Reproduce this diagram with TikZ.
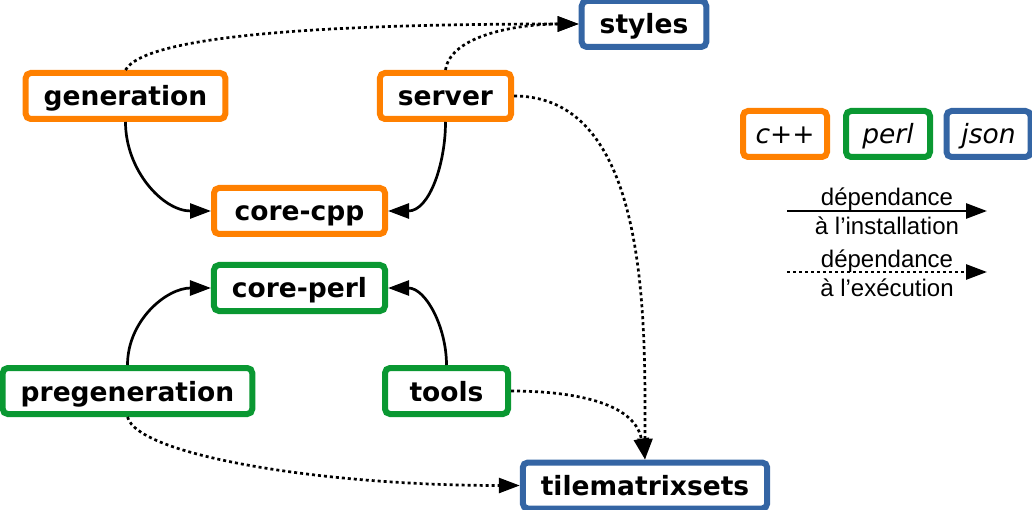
\documentclass[tikz,border=0pt]{standalone}
\usepackage{fontspec}
\setmainfont{DejaVu Sans}
\newfontfamily\legfont{Liberation Sans}
\usetikzlibrary{arrows.meta}
\definecolor{cppcol}{RGB}{255,128,0}
\definecolor{perlcol}{RGB}{10,152,50}
\definecolor{jsoncol}{RGB}{52,101,164}
\tikzset{
    box/.style={draw,line width=6pt,rounded corners=5pt,fill=white,minimum height=46pt,
        inner xsep=18pt,inner ysep=0pt,text height=24pt,text depth=4pt,
        font=\fontsize{26.5}{30}\selectfont\bfseries},
    cppbox/.style={box,draw=cppcol},
    perlbox/.style={box,draw=perlcol},
    jsonbox/.style={box,draw=jsoncol},
    legbox/.style={font=\fontsize{26.5}{30}\selectfont\mdseries\itshape,minimum width=84pt,inner xsep=0pt},
    legtext/.style={font=\legfont\fontsize{24}{26}\selectfont,inner sep=0pt,anchor=base},
    install/.style={line width=2.7pt,-{Triangle[length=21pt,width=15pt]}},
    exec/.style={install,dash pattern=on 3pt off 3pt},
}

\begin{document}
\begin{tikzpicture}[x=1pt,y=1pt]
    \useasboundingbox (0,0) rectangle (1032,-510);

    \node[jsonbox] (styles) at (644,-24) {styles};
    \node[cppbox] (generation) at (125.5,-96) {generation};
    \node[cppbox] (server) at (445.5,-96) {server};
    \node[cppbox,minimum width=171pt] (corecpp) at (299.5,-211) {core-cpp};
    \node[perlbox,minimum width=171pt] (coreperl) at (299.5,-288) {core-perl};
    \node[perlbox] (pregeneration) at (127.5,-391) {pregeneration};
    \node[perlbox,minimum width=123pt] (tools) at (446.5,-391) {tools};
    \node[jsonbox] (tilematrixsets) at (645,-485.5) {tilematrixsets};

    % dependances a l'installation
    \draw[install] (generation.south) to[out=-90,in=180] (corecpp.west);
    \draw[install] (server.south) to[out=-90,in=0] (corecpp.east);
    \draw[install] (pregeneration.north) to[out=90,in=180] (coreperl.west);
    \draw[install] (tools.north) to[out=90,in=0] (coreperl.east);

    % dependances a l'execution
    \draw[exec] (generation.north) .. controls +(20,35) and +(-250,0) .. (styles.west);
    \draw[exec] (server.north) .. controls +(5,35) and +(-60,0) .. (styles.west);
    \draw[exec] (server.east) to[out=0,in=90,looseness=0.9] (tilematrixsets.north);
    \draw[exec] (tools.east) to[out=0,in=100] (tilematrixsets.north);
    \draw[exec] (pregeneration.south) .. controls +(10,-38) and +(-200,0) .. (tilematrixsets.west);

    % legende
    \node[cppbox,legbox] (lcpp) at (785,-134) {c++};
    \node[perlbox,legbox] (lperl) at (888,-134) {perl};
    \node[jsonbox,legbox] (ljson) at (988.5,-134) {json};

    \coordinate (ia) at (787,-211);
    \coordinate (ib) at (987,-211);
    \coordinate (ea) at (787,-272);
    \coordinate (eb) at (987,-272);
    \draw[install] (ia) -- (ib)
        node[midway,legtext,yshift=5pt] {dépendance}
        node[midway,legtext,yshift=-24pt] {à l’installation};
    \draw[exec] (ea) -- (eb)
        node[midway,legtext,yshift=4pt] {dépendance}
        node[midway,legtext,yshift=-24pt] {à l’exécution};
\end{tikzpicture}
\end{document}
